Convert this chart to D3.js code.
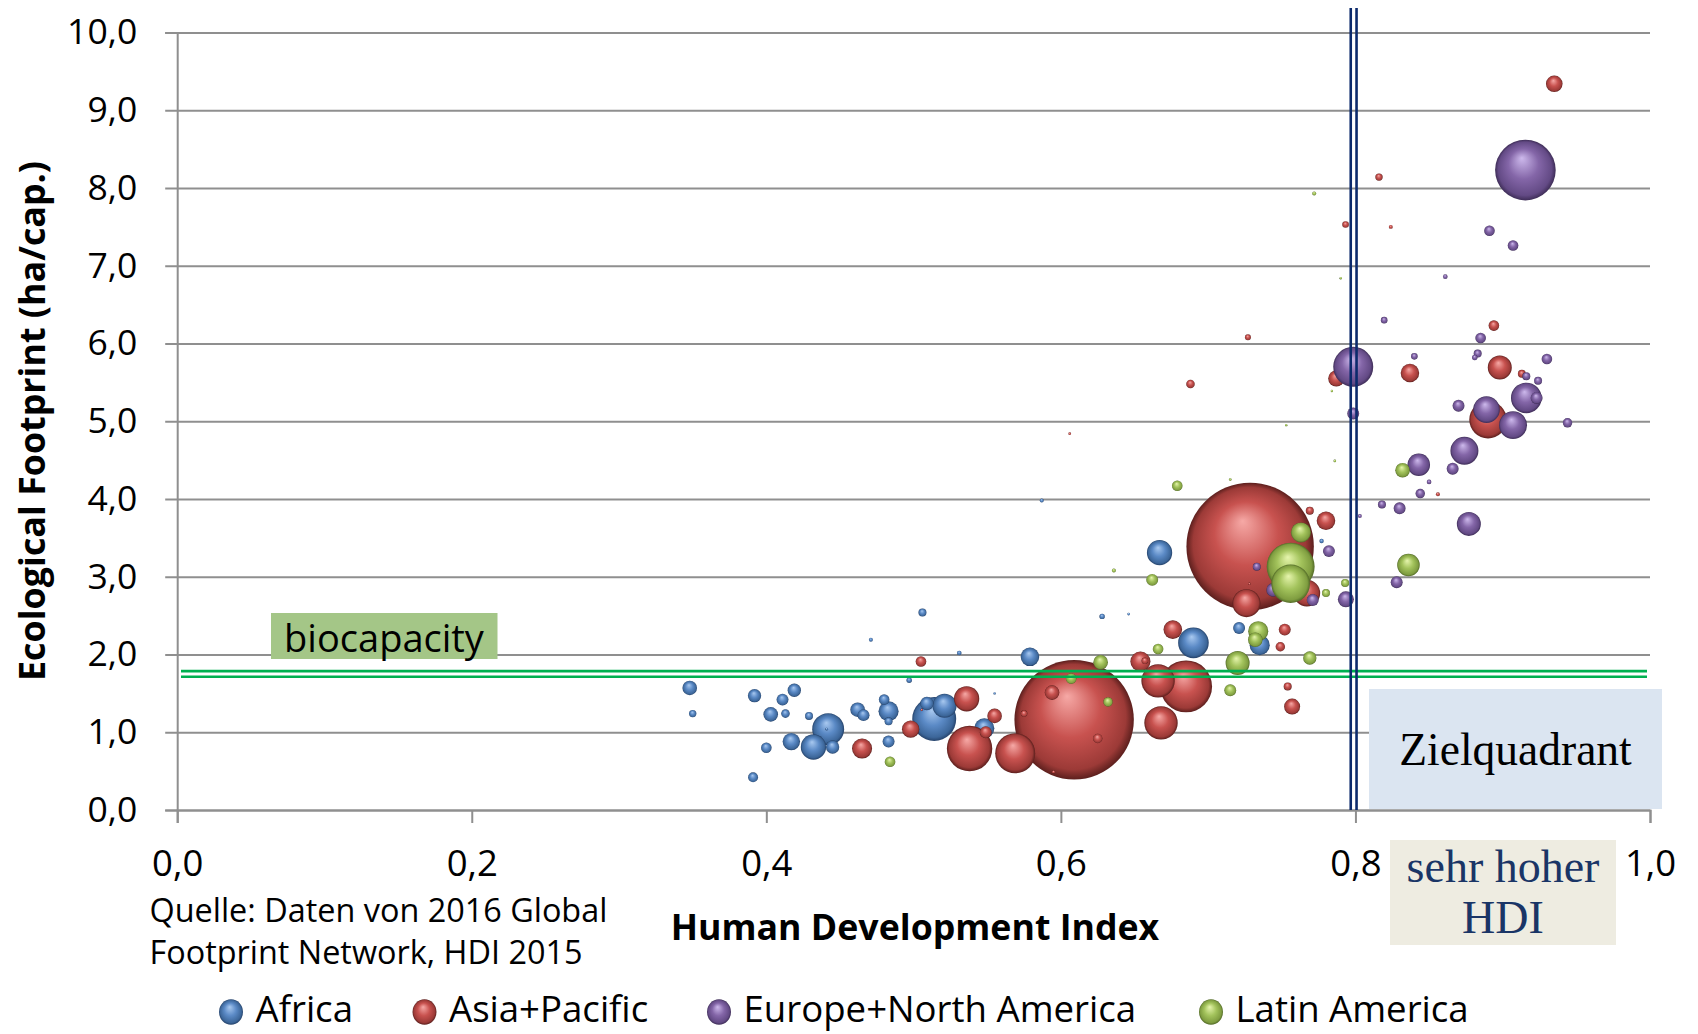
<!DOCTYPE html>
<html><head><meta charset="utf-8">
<script src="https://cdn.jsdelivr.net/npm/d3@7"></script>
<style>body{margin:0;background:#fff}svg{display:block}</style>
</head><body><svg id="c" width="1698" height="1034"></svg>
<script>
// ---- data: [HDI, Ecological Footprint (ha/cap.), population (millions) -> bubble size]
const regions = ["Africa", "Asia+Pacific", "Europe+North America", "Latin America"];

const africa = [
  [0.348,1.57,18],[0.350,1.24,4.6],[0.392,1.47,15],[0.391,0.42,8.4],[0.411,1.42,12],
  [0.419,1.54,15],[0.403,1.23,18],[0.413,1.24,6.2],[0.400,0.80,9.5],[0.417,0.88,25.5],
  [0.429,1.21,5.4],[0.442,1.04,86],[0.432,0.81,54],[0.445,0.81,15],[0.441,1.04,0.6],
  [0.462,1.29,18],[0.466,1.22,12],[0.480,1.42,9.5],[0.483,1.27,34],[0.483,1.14,5.4],
  [0.483,0.88,12],[0.471,2.19,1.35],[0.506,2.54,5.4],[0.497,1.67,2.5],[0.531,2.02,1.8],
  [0.579,1.97,29],[0.514,1.17,163],[0.509,1.37,15],[0.521,1.34,49],[0.548,1.05,34],
  [0.555,1.50,0.5],[0.587,3.98,1.35],[0.667,3.31,54],[0.628,2.49,2.5],[0.646,2.52,0.6],
  [0.690,2.15,79],[0.721,2.34,12],[0.735,2.12,34],[0.777,3.46,1.6]
];
const asiaPacific = [
  [0.505,1.91,9.5],[0.536,1.43,54],[0.498,1.04,25.5],[0.465,0.79,34],[0.538,0.79,174],
  [0.569,0.73,135],[0.555,1.21,18],[0.549,1.00,12],[0.594,1.51,18],[0.575,1.24,3.7],
  [0.595,0.49,0.8],[0.5055,1.29,0.4],[0.609,1.16,1203],[0.7285,3.39,1370],[0.606,4.84,0.6],
  [0.769,3.85,5.4],[0.780,3.72,29],[0.767,2.79,60],[0.726,2.66,66],[0.728,2.91,0.3],
  [0.676,2.32,29],[0.752,2.32,12],[0.749,2.10,7.5],[0.654,1.91,34],[0.657,1.92,3.7],
  [0.666,1.66,94],[0.685,1.59,228],[0.668,1.12,94],[0.625,0.92,7.5],[0.754,1.59,5.4],
  [0.757,1.33,21.6],[0.935,9.34,23.3],[0.816,8.14,4.6],[0.7933,7.53,3.7],[0.824,7.50,1.35],
  [0.727,6.08,3.0],[0.688,5.48,6.2],[0.787,5.55,22],[0.894,6.23,9.5],[0.837,5.62,29],
  [0.898,5.69,48.6],[0.913,5.61,5.4],[0.890,5.02,118],[0.856,4.06,1.35]
];
const europeNorthAmerica = [
  [0.9154,8.23,310],[0.891,7.45,9.5],[0.907,7.26,9.5],[0.861,6.86,1.8],[0.8195,6.30,3.7],
  [0.885,6.07,9.5],[0.883,5.87,5.4],[0.881,5.82,2.5],[0.840,5.835,3.7],[0.7985,5.70,135],
  [0.930,5.80,9.5],[0.916,5.58,5.4],[0.924,5.52,5.4],[0.916,5.30,79],[0.923,5.30,12],
  [0.889,5.15,60],[0.907,4.95,66],[0.870,5.20,12],[0.944,4.98,7.5],[0.7985,5.10,12],
  [0.874,4.62,66],[0.843,4.44,43],[0.866,4.39,12],[0.850,4.22,1.8],[0.844,4.07,7.5],
  [0.818,3.93,5.4],[0.830,3.88,12],[0.803,3.78,1.35],[0.877,3.68,48.6],[0.828,2.93,12],
  [0.7935,2.71,21.6],[0.733,3.13,5.4],[0.782,3.33,12],[0.744,2.83,15],[0.771,2.70,12]
];
const latinAmerica = [
  [0.484,0.62,9.5],[0.679,4.17,9.5],[0.715,4.25,0.6],[0.786,4.49,0.6],[0.636,3.08,1.35],
  [0.662,2.96,12],[0.763,3.57,34],[0.756,3.13,194],[0.756,2.91,126],[0.793,2.92,5.4],
  [0.780,2.79,5.4],[0.734,2.30,34],[0.732,2.19,18],[0.666,2.07,9.5],[0.627,1.90,18],
  [0.607,1.69,9.5],[0.632,1.39,7.5],[0.720,1.89,48.6],[0.715,1.54,12],[0.769,1.955,15],
  [0.832,4.37,18],[0.836,3.15,43],[0.772,7.93,1.35],[0.790,6.84,0.4],[0.784,5.39,0.3],
  [0.753,4.95,0.2]
];

const xTickValues = [0, 0.2, 0.4, 0.6, 0.8, 1.0];
const yTickValues = [0,1,2,3,4,5,6,7,8,9,10];
const biocapacity = 1.75;
const hdiVeryHigh = 0.8;
const xTitle = "Human Development Index";
const yTitle = "Ecological Footprint (ha/cap.)";
const sourceLines = ["Quelle: Daten von 2016 Global", "Footprint Network, HDI 2015"];

// ---- styling
const palettes = [
  ["#a9c9f0","#5b8ac6","#3c6699","#26436b"],
  ["#f6a9a6","#c8524f","#9c3a37","#5c1f1d"],
  ["#cdb9ec","#8466a8","#634a85","#3e2d57"],
  ["#e6f5ad","#a3c35c","#7f9d40","#526a27"]
];
const fmt = d => d.toFixed(1).replace(".", ",");
const FONT = "'Open Sans', sans-serif";

const svg = d3.select("#c");
svg.append("rect").attr("width",1698).attr("height",1034).attr("fill","#fff");

const defs = svg.append("defs");
palettes.forEach((p, i) => {
  const g = defs.append("radialGradient").attr("id","grad"+i)
    .attr("cx","50%").attr("cy","50%").attr("r","50%").attr("fx","44%").attr("fy","30%");
  g.append("stop").attr("offset","0%").attr("stop-color",p[0]);
  g.append("stop").attr("offset","50%").attr("stop-color",p[1]);
  g.append("stop").attr("offset","88%").attr("stop-color",p[2]);
  g.append("stop").attr("offset","100%").attr("stop-color",p[3]);
});

const pLeft = 177.2, pRight = 1650, pTop = 32.5, pBottom = 810;
const x = d3.scaleLinear().domain([0,1]).range([pLeft,pRight]);
const y = d3.scaleLinear().domain([0,10]).range([pBottom,pTop]);
const r = d3.scaleSqrt().domain([0,1400]).range([0,64.4]);

const gridColor = "#8f8f8f";

// y axis with gridlines
const yAxis = svg.append("g").attr("transform",`translate(${pLeft},0)`)
  .call(d3.axisLeft(y).tickValues(yTickValues).tickFormat(fmt).tickSizeOuter(0).tickSize(12).tickPadding(28));
yAxis.selectAll(".tick line").attr("x1",-12).attr("x2",pRight-pLeft).attr("stroke",gridColor).attr("stroke-width",2);
yAxis.select(".domain").attr("stroke",gridColor).attr("stroke-width",2);
yAxis.selectAll("text").attr("font-family",FONT).attr("font-size",35.5).attr("fill","#000");

// x axis
const xAxis = svg.append("g").attr("transform",`translate(0,${pBottom})`)
  .call(d3.axisBottom(x).tickValues(xTickValues).tickFormat(fmt).tickSizeOuter(0).tickSize(13));
xAxis.selectAll(".tick line").attr("stroke",gridColor).attr("stroke-width",2);
xAxis.select(".domain").attr("stroke",gridColor).attr("stroke-width",2);
xAxis.selectAll("text").attr("font-family",FONT).attr("font-size",36.5).attr("fill","#000")
  .attr("y",66).attr("dy",0);

// bubbles
const seriesData = [africa, asiaPacific, europeNorthAmerica, latinAmerica];
const bubbles = svg.append("g");
seriesData.forEach((arr, i) => {
  const data = arr.map(d => ({hdi:d[0], ef:d[1], pop:d[2]})).sort((a,b) => b.pop - a.pop);
  bubbles.append("g").selectAll("circle").data(data).join("circle")
    .attr("cx", d => x(d.hdi)).attr("cy", d => y(d.ef))
    .attr("r", d => Math.max(1.2, r(d.pop)))
    .attr("fill", `url(#grad${i})`);
});

// biocapacity double line
const bioY = y(biocapacity);
[-2.8, 2.8].forEach(o => {
  svg.append("line").attr("x1",181).attr("x2",1647).attr("y1",bioY+o).attr("y2",bioY+o)
    .attr("stroke","#00b050").attr("stroke-width",2.6);
});
// biocapacity label
svg.append("rect").attr("x",271).attr("y",613).attr("width",226.5).attr("height",46).attr("fill","#a4c687");
svg.append("text").attr("x",384).attr("y",652).attr("text-anchor","middle")
  .attr("font-family",FONT).attr("font-size",38).attr("fill","#000").text("biocapacity");

// very high HDI double line
const hx = x(hdiVeryHigh) - 1.8;
[-2.9, 2.9].forEach(o => {
  svg.append("line").attr("x1",hx+o).attr("x2",hx+o).attr("y1",8).attr("y2",pBottom)
    .attr("stroke","#0c2a6c").attr("stroke-width",2.6);
});

// Zielquadrant box
svg.append("rect").attr("x",1369).attr("y",689).attr("width",293).attr("height",120).attr("fill","#dbe5f1");
svg.append("text").attr("x",1515.5).attr("y",765).attr("text-anchor","middle")
  .attr("font-family","'Liberation Serif', serif").attr("font-size",45.5).attr("fill","#000").text("Zielquadrant");

// sehr hoher HDI box
svg.append("rect").attr("x",1390).attr("y",840).attr("width",226).attr("height",105).attr("fill","#eeece1");
const sh = svg.append("text").attr("text-anchor","middle")
  .attr("font-family","'Liberation Serif', serif").attr("font-size",46).attr("fill","#1a3566");
sh.append("tspan").attr("x",1503).attr("y",882).text("sehr hoher");
sh.append("tspan").attr("x",1503).attr("y",933).text("HDI");

// axis titles
svg.append("text").attr("x",915).attr("y",940).attr("text-anchor","middle")
  .attr("font-family",FONT).attr("font-weight",700).attr("font-size",35.7).attr("fill","#000").text(xTitle);
svg.append("text").attr("transform","translate(45,421) rotate(-90)").attr("text-anchor","middle")
  .attr("font-family",FONT).attr("font-weight",700).attr("font-size",35.8).attr("fill","#000").text(yTitle);

// source note
sourceLines.forEach((t, i) => {
  svg.append("text").attr("x",149.5).attr("y",921.5 + i*42)
    .attr("font-family",FONT).attr("font-size",32.4).attr("fill","#000").text(t);
});

// legend
const legendX = [231, 424.5, 719, 1211];
const lg = svg.append("g").selectAll("g").data(regions).join("g")
  .attr("transform",(d,i) => `translate(${legendX[i]},1012)`);
lg.append("ellipse").attr("rx",12).attr("ry",12.7).attr("fill",(d,i) => `url(#grad${i})`);
lg.append("text").attr("x",24.5).attr("y",10)
  .attr("font-family",FONT).attr("font-size",36.6).attr("fill","#000").text(d => d);
</script></body></html>
